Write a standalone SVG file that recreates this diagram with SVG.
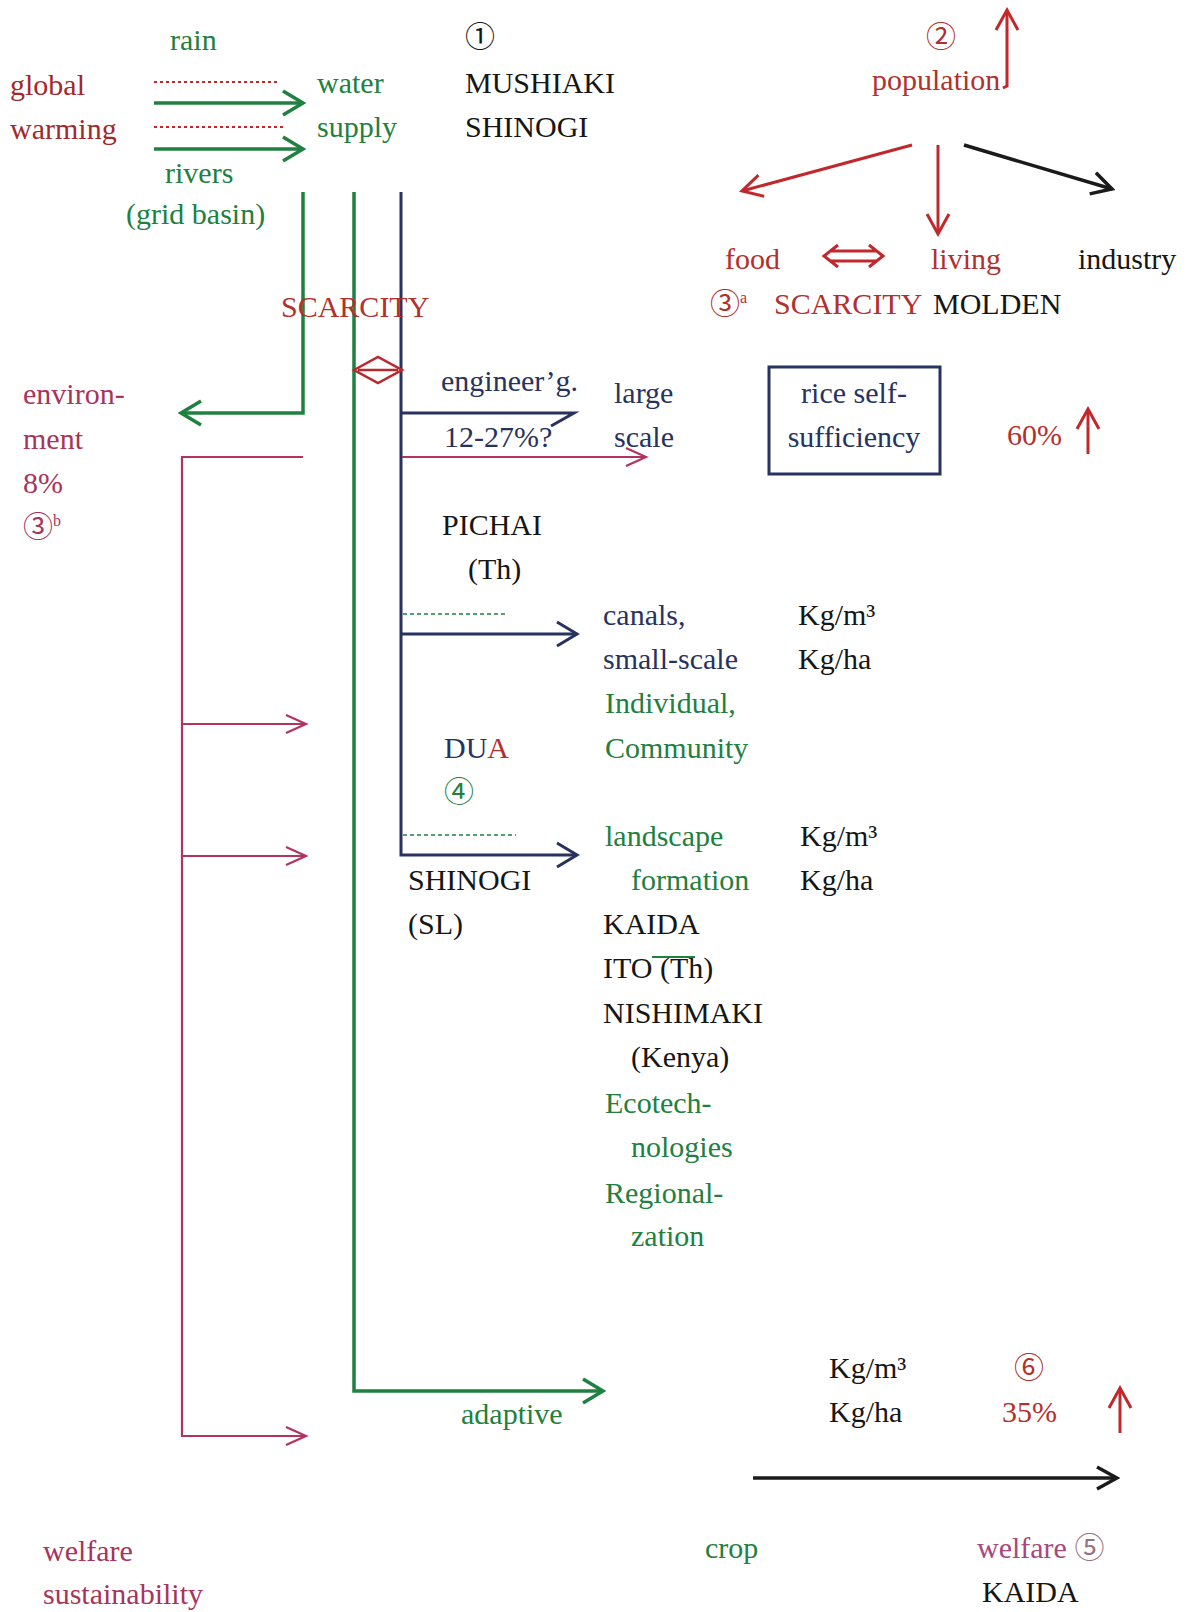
<svg xmlns="http://www.w3.org/2000/svg" width="1197" height="1612" viewBox="0 0 1197 1612">
<style>
.t{font-family:"Liberation Serif","Noto Sans CJK JP",serif;font-size:30px}
.g{fill:#22803e}.r{fill:#b3302c}.dr{fill:#a3282c}.k{fill:#161616}.n{fill:#27335e}.m{fill:#a8345a}.p{fill:#a8487a}
.sup{font-size:16px}
.lg{stroke:#1f8040;stroke-width:3.5;fill:none}
.ln{stroke:#27335e;stroke-width:3;fill:none}
.lm{stroke:#b23360;stroke-width:2.2;fill:none}
.lr{stroke:#c0282c;stroke-width:3;fill:none}
.lk{stroke:#1a1a1a;stroke-width:3.5;fill:none}
.dash{stroke:#1f8040;stroke-width:1.6;stroke-dasharray:4 3;fill:none}
.dot{stroke:#c0282c;stroke-width:2;stroke-dasharray:3 3;fill:none}
</style>
<defs>
<marker id="ag" markerUnits="userSpaceOnUse" markerWidth="26" markerHeight="30" refX="23" refY="15" orient="auto"><path d="M3,3 L23,15 L3,27" fill="none" stroke="#1f8040" stroke-width="3.5"/></marker>
<marker id="an" markerUnits="userSpaceOnUse" markerWidth="26" markerHeight="30" refX="23" refY="15" orient="auto"><path d="M3,3 L23,15 L3,27" fill="none" stroke="#27335e" stroke-width="3"/></marker>
<marker id="am" markerUnits="userSpaceOnUse" markerWidth="26" markerHeight="24" refX="23" refY="12" orient="auto"><path d="M3,3 L23,12 L3,21" fill="none" stroke="#b23360" stroke-width="2.2"/></marker>
<marker id="ar" markerUnits="userSpaceOnUse" markerWidth="26" markerHeight="28" refX="23" refY="14" orient="auto"><path d="M3,3 L23,14 L3,25" fill="none" stroke="#c0282c" stroke-width="3"/></marker>
<marker id="ak" markerUnits="userSpaceOnUse" markerWidth="26" markerHeight="28" refX="23" refY="14" orient="auto"><path d="M3,3 L23,14 L3,25" fill="none" stroke="#1a1a1a" stroke-width="3.5"/></marker>
</defs>
<rect width="1197" height="1612" fill="#ffffff"/>

<g id="connectors">
<!-- top inputs -->
<line class="dot" x1="154" y1="82" x2="280" y2="82"/>
<line class="dot" x1="154" y1="127" x2="283" y2="127"/>
<line class="lg" x1="154" y1="103" x2="303" y2="103" marker-end="url(#ag)"/>
<line class="lg" x1="154" y1="149" x2="303" y2="149" marker-end="url(#ag)"/>
<!-- vertical trunks -->
<polyline class="lg" points="303,192 303,413 181,413" marker-end="url(#ag)"/>
<polyline class="lg" points="354,192 354,1391 603,1391" marker-end="url(#ag)"/>
<polyline class="ln" points="401,192 401,855 577,855" marker-end="url(#an)"/>
<polyline class="ln" points="401,413 574,413 551,426"/>
<line class="ln" x1="401" y1="634" x2="577" y2="634" marker-end="url(#an)"/>
<line class="dash" x1="403" y1="614" x2="508" y2="614"/>
<line class="dash" x1="403" y1="835" x2="516" y2="835"/>
<!-- scarcity diamond -->
<path d="M354,370 L378,357 L402,370 L378,383 Z M358,370 L398,370" fill="none" stroke="#b8282c" stroke-width="2.5"/>
<!-- crimson -->
<line class="lm" x1="402" y1="457" x2="646" y2="457" marker-end="url(#am)"/>
<polyline class="lm" points="303,457 182,457 182,1436 306,1436" marker-end="url(#am)"/>
<line class="lm" x1="182" y1="724" x2="306" y2="724" marker-end="url(#am)"/>
<line class="lm" x1="182" y1="856" x2="306" y2="856" marker-end="url(#am)"/>
<!-- population arrows -->
<polyline class="lr" points="1003,88 1007,86 1007,10" marker-end="url(#ar)"/>
<line class="lr" x1="912" y1="145" x2="742" y2="191" marker-end="url(#ar)"/>
<line class="lr" x1="938" y1="145" x2="938" y2="234" marker-end="url(#ar)"/>
<line class="lk" x1="964" y1="145" x2="1112" y2="189" marker-end="url(#ak)"/>
<path d="M838,245 L824,256 L838,267 M869,245 L883,256 L869,267 M831,251 L876,251 M831,261 L876,261" fill="none" stroke="#c0282c" stroke-width="3"/>
<!-- right arrows -->
<line class="lr" x1="1088" y1="454" x2="1088" y2="409" marker-end="url(#ar)"/>
<line class="lr" x1="1120" y1="1433" x2="1120" y2="1388" marker-end="url(#ar)"/>
<line class="lk" x1="753" y1="1478" x2="1117" y2="1478" marker-end="url(#ak)"/>
<!-- ITO mark -->
<line x1="652" y1="957" x2="695" y2="957" stroke="#1f8040" stroke-width="2"/>
</g>

<g id="n-inputs">
<text class="t g" x="170" y="50">rain</text>
<text class="t dr" x="10" y="95">global</text>
<text class="t dr" x="10" y="139">warming</text>
<text class="t g" x="165" y="183">rivers</text>
<text class="t g" x="126" y="224">(grid basin)</text>
</g>
<g id="n-water-supply">
<text class="t g" x="317" y="93">water</text>
<text class="t g" x="317" y="137">supply</text>
</g>
<g id="n-ref1">
<text class="t k" x="465" y="47">①</text>
<text class="t k" x="465" y="93">MUSHIAKI</text>
<text class="t k" x="465" y="137">SHINOGI</text>
</g>
<g id="n-population">
<text class="t r" x="926" y="47">②</text>
<text class="t r" x="872" y="90">population</text>
</g>
<g id="n-food"><text class="t r" x="725" y="269">food</text></g>
<g id="n-living"><text class="t r" x="931" y="269">living</text></g>
<g id="n-industry"><text class="t k" x="1078" y="269">industry</text></g>
<g id="n-scarcity-a">
<text class="t r" x="710" y="314">③<tspan class="sup" dy="-11">a</tspan></text>
<text class="t r" x="774" y="314">SCARCITY</text>
<text class="t k" x="933" y="314">MOLDEN</text>
</g>
<g id="n-scarcity"><text class="t r" x="281" y="317">SCARCITY</text></g>
<g id="n-environment">
<text class="t m" x="23" y="404">environ-</text>
<text class="t m" x="23" y="449">ment</text>
<text class="t m" x="23" y="493">8%</text>
<text class="t m" x="23" y="537">③<tspan class="sup" dy="-11">b</tspan></text>
</g>
<g id="n-engineering">
<text class="t n" x="441" y="391">engineer’g.</text>
<text class="t n" x="444" y="447">12-27%?</text>
</g>
<g id="n-large-scale">
<text class="t n" x="614" y="403">large</text>
<text class="t n" x="614" y="447">scale</text>
</g>
<g id="n-rice">
<rect x="769" y="367" width="171" height="107" fill="none" stroke="#27335e" stroke-width="3"/>
<text class="t n" x="854" y="403" text-anchor="middle">rice self-</text>
<text class="t n" x="854" y="447" text-anchor="middle">sufficiency</text>
</g>
<g id="n-60"><text class="t r" x="1007" y="445">60%</text></g>
<g id="n-pichai">
<text class="t k" x="442" y="535">PICHAI</text>
<text class="t k" x="468" y="579">(Th)</text>
</g>
<g id="n-canals">
<text class="t n" x="603" y="625">canals,</text>
<text class="t n" x="603" y="669">small-scale</text>
<text class="t g" x="605" y="713">Individual,</text>
<text class="t g" x="605" y="758">Community</text>
</g>
<g id="n-units1">
<text class="t k" x="798" y="625">Kg/m³</text>
<text class="t k" x="798" y="669">Kg/ha</text>
</g>
<g id="n-dua">
<text class="t n" x="444" y="758">DU<tspan class="r">A</tspan></text>
<text class="t g" x="444" y="802">④</text>
</g>
<g id="n-landscape">
<text class="t g" x="605" y="846">landscape</text>
<text class="t g" x="631" y="890">formation</text>
<text class="t k" x="603" y="934">KAIDA</text>
<text class="t k" x="603" y="978">ITO (Th)</text>
<text class="t k" x="603" y="1023">NISHIMAKI</text>
<text class="t k" x="631" y="1067">(Kenya)</text>
<text class="t g" x="605" y="1113">Ecotech-</text>
<text class="t g" x="631" y="1157">nologies</text>
<text class="t g" x="605" y="1203">Regional-</text>
<text class="t g" x="631" y="1246">zation</text>
</g>
<g id="n-units2">
<text class="t k" x="800" y="846">Kg/m³</text>
<text class="t k" x="800" y="890">Kg/ha</text>
</g>
<g id="n-shinogi-sl">
<text class="t k" x="408" y="890">SHINOGI</text>
<text class="t k" x="408" y="934">(SL)</text>
</g>
<g id="n-adaptive"><text class="t g" x="461" y="1424">adaptive</text></g>
<g id="n-units3">
<text class="t k" x="829" y="1378">Kg/m³</text>
<text class="t k" x="829" y="1422">Kg/ha</text>
</g>
<g id="n-35">
<text class="t r" x="1014" y="1378">⑥</text>
<text class="t r" x="1002" y="1422">35%</text>
</g>
<g id="n-crop"><text class="t g" x="705" y="1558">crop</text></g>
<g id="n-welfare5">
<text class="t p" x="977" y="1558">welfare <tspan fill="#9a7080">⑤</tspan></text>
<text class="t k" x="982" y="1602">KAIDA</text>
</g>
<g id="n-welfare-sust">
<text class="t m" x="43" y="1561">welfare</text>
<text class="t m" x="43" y="1604">sustainability</text>
</g>
</svg>
